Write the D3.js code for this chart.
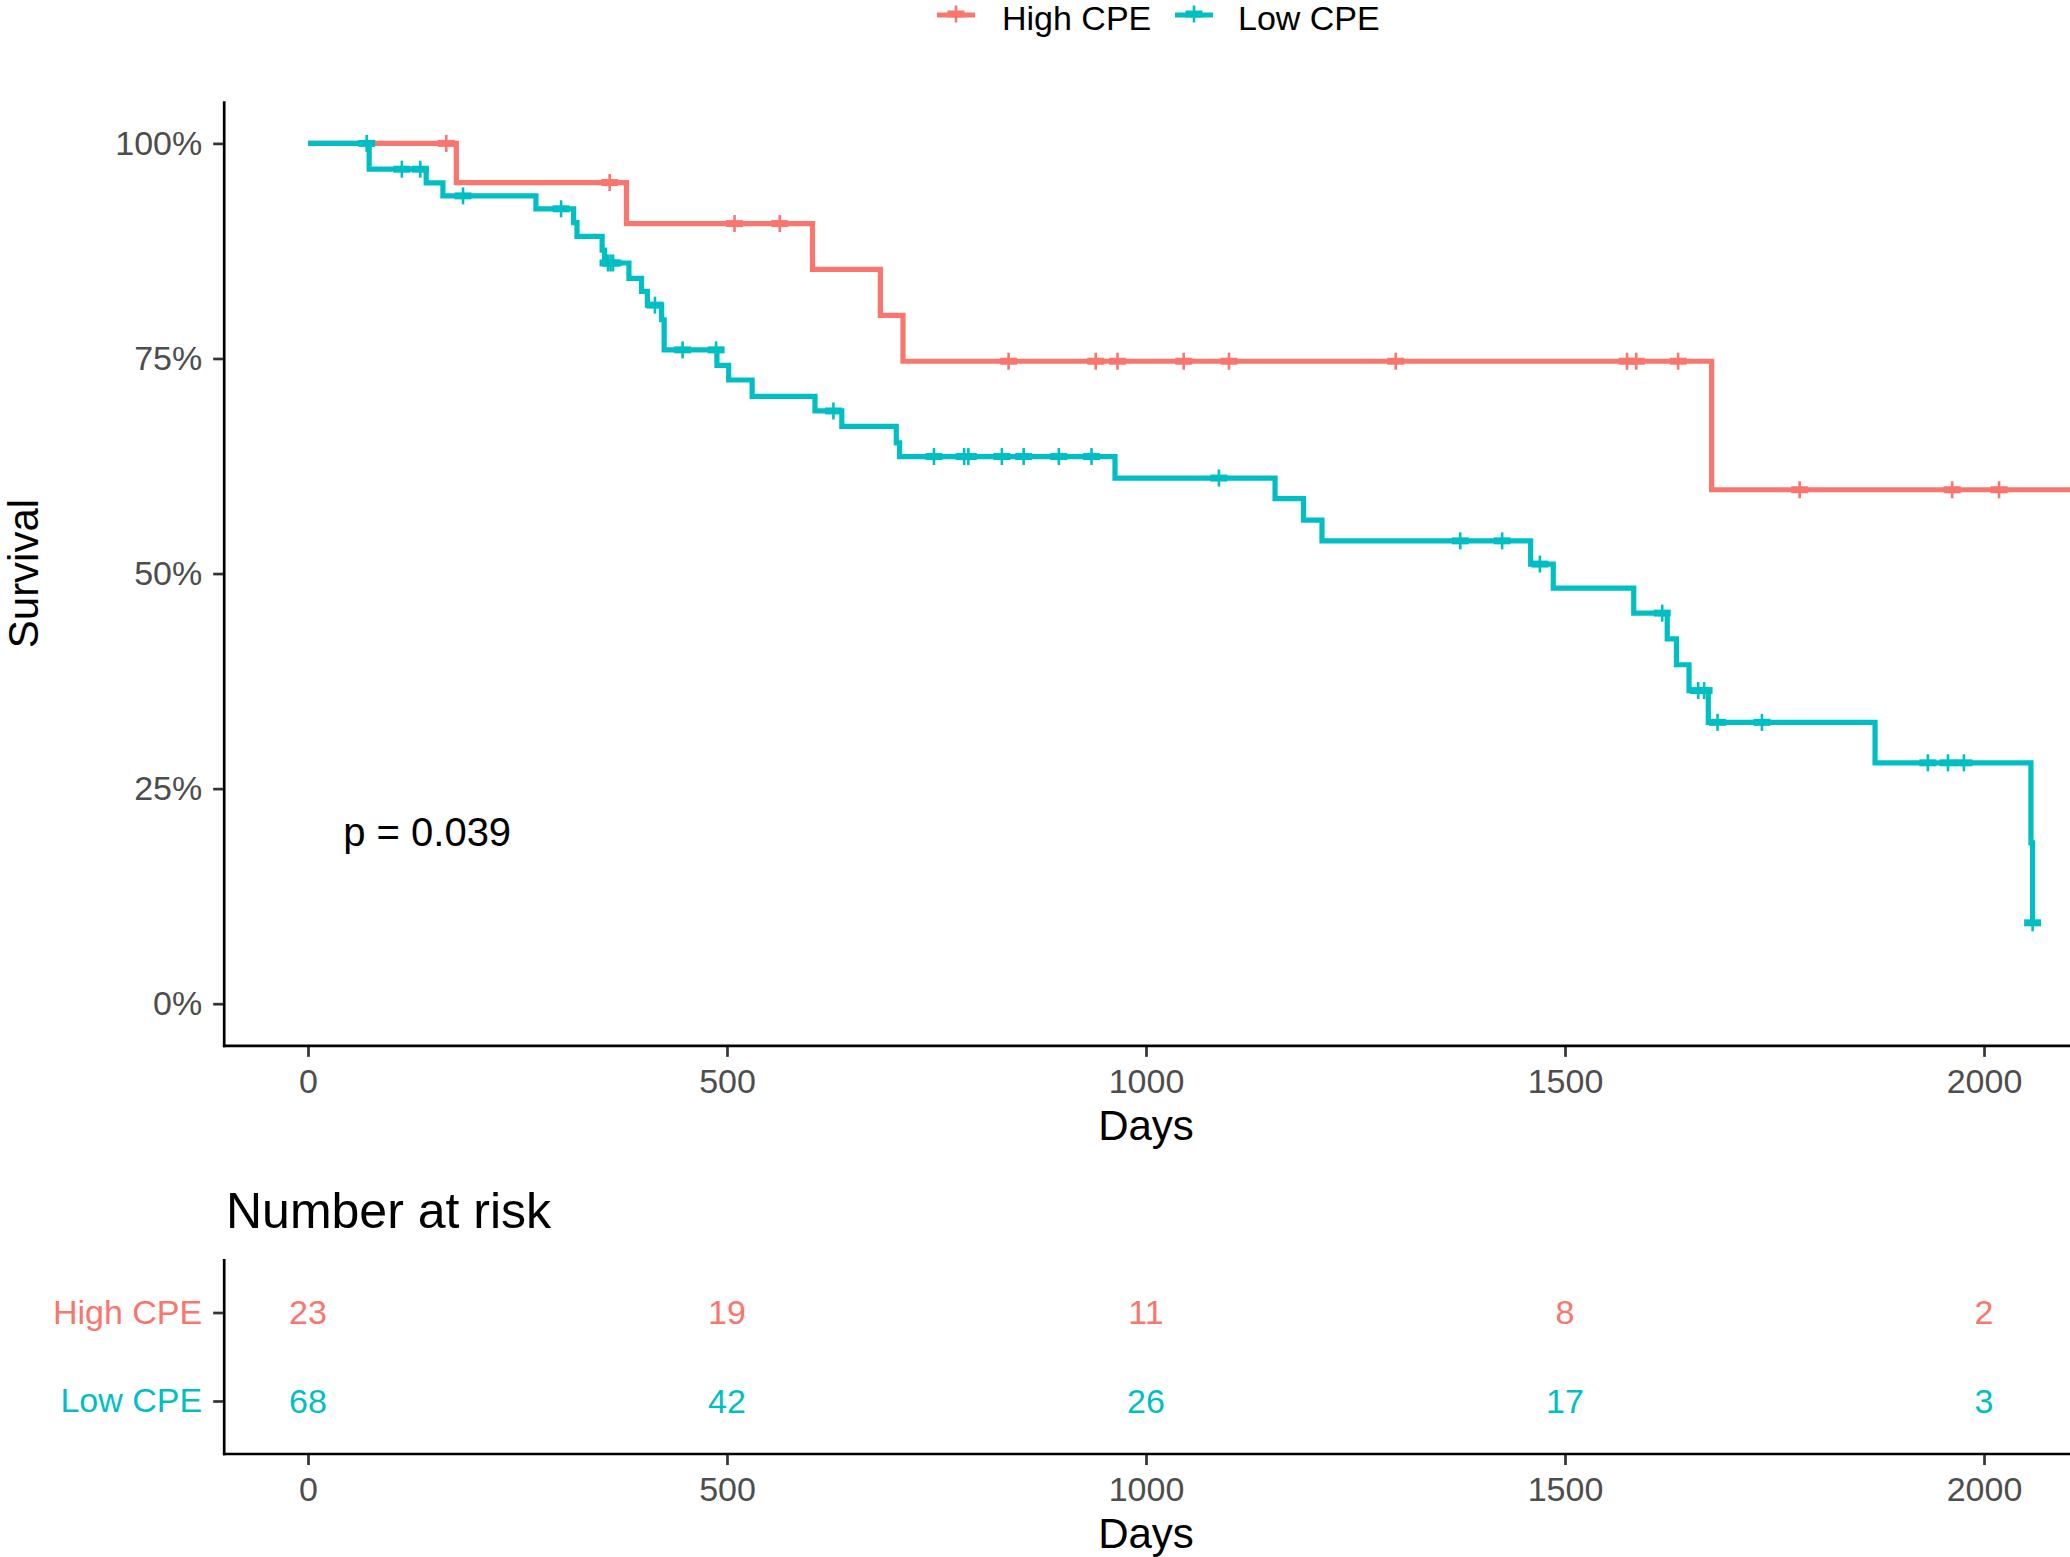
<!DOCTYPE html>
<html>
<head>
<meta charset="utf-8">
<script src="https://cdn.jsdelivr.net/npm/d3@7"></script>
<style>
  html, body { margin: 0; padding: 0; background: #ffffff; }
  svg { display: block; }
</style>
</head>
<body>
<script>
// ---------------- data ----------------
const groups = ["High CPE", "Low CPE"];
const groupColors = ["#F8766D", "#00BFC4"];

// High CPE Kaplan-Meier steps (days, survival)
const highTimes = [0, 177, 380, 602, 683, 710, 1675, 2105];
const highSurv  = [1, 0.9545, 0.9068, 0.8535, 0.8001, 0.7468, 0.5974, 0.5974];
const highCensor = [165, 360, 509, 563, 836, 940, 966, 1045, 1099, 1298, 1574, 1585, 1635, 1780, 1962, 2018];

// Low CPE Kaplan-Meier steps (days, survival)
const lowTimes = [0, 73, 141, 161, 272, 317, 321, 351, 354, 383, 398, 405, 422, 425, 488, 502, 530, 605,
                  637, 702, 706, 963, 1154, 1188, 1210, 1459, 1486, 1582, 1622, 1633, 1648, 1671, 1870, 2056, 2058];
const lowSurv  = [1, 0.970, 0.954, 0.939, 0.924, 0.908, 0.892, 0.876, 0.861, 0.843, 0.828, 0.812, 0.795, 0.760,
                  0.742, 0.725, 0.706, 0.689, 0.671, 0.652, 0.636, 0.611, 0.587, 0.562, 0.538, 0.511, 0.483,
                  0.454, 0.424, 0.394, 0.364, 0.327, 0.280, 0.187, 0.094];
const lowCensor = [70, 112, 134, 185, 302, 358, 361, 364, 414, 447, 487, 627, 747, 783, 788, 828, 854, 896, 935,
                   1087, 1375, 1425, 1470, 1616, 1659, 1666, 1682, 1735, 1933, 1957, 1976, 2058];

const xTicks = [0, 500, 1000, 1500, 2000];
const yTicks = [0, 0.25, 0.5, 0.75, 1];
const yTickLabels = ["0%", "25%", "50%", "75%", "100%"];

const riskTimes = [0, 500, 1000, 1500, 2000];
const highRisk = [23, 19, 11, 8, 2];
const lowRisk  = [68, 42, 26, 17, 3];

const pValueText = "p = 0.039";
const pValuePos = [42, 0.2];

// ---------------- layout ----------------
const W = 2070, H = 1557;
const FONT = "'Liberation Sans', Arial, Helvetica, sans-serif";
const TICK_FS = 34, TITLE_FS = 42, PVAL_FS = 40, TABLE_TITLE_FS = 50;

const x = d3.scaleLinear().domain([0, 2000]).range([308, 1984]);
const y = d3.scaleLinear().domain([0, 1]).range([1003.7, 143.4]);

const panelLeft = x(-100);
const panelRight = x(2200);
const panelTop = y(1.049);
const panelBottom = y(-0.049);

const tableTop = 1259, tableBottom = 1454;
const yRisk = d3.scalePoint().domain(groups).range([1312.5, 1401]);

const svg = d3.select("body").append("svg")
  .attr("width", W).attr("height", H)
  .attr("viewBox", `0 0 ${W} ${H}`)
  .style("font-family", FONT);

svg.append("rect").attr("width", W).attr("height", H).attr("fill", "#ffffff");

// ---------------- helpers ----------------
function survAt(times, surv, t) {
  let s = surv[0];
  for (let i = 0; i < times.length; i++) if (times[i] <= t) s = surv[i];
  return s;
}
function styleAxis(g, fs) {
  g.select(".domain").remove();
  g.selectAll(".tick line").attr("stroke", "#333333").attr("stroke-width", 2.7);
  g.selectAll(".tick text").attr("fill", "#4D4D4D").style("font-size", fs + "px").style("font-family", FONT);
}
function drawCross(g, cx, cy, color) {
  const c = g.append("g").attr("transform", `translate(${cx},${cy})`);
  c.append("line").attr("x1", -8.5).attr("x2", 8.5).attr("y1", 0).attr("y2", 0)
    .attr("stroke", color).attr("stroke-width", 7);
  c.append("line").attr("x1", 0).attr("x2", 0).attr("y1", -8.5).attr("y2", 8.5)
    .attr("stroke", color).attr("stroke-width", 2.6);
}

// ---------------- main panel axes ----------------
const yAxisG = svg.append("g").attr("transform", `translate(${panelLeft},0)`)
  .call(d3.axisLeft(y).tickValues(yTicks).tickFormat((d, i) => yTickLabels[i]).tickSize(11).tickPadding(11));
styleAxis(yAxisG, TICK_FS);

const xAxisG = svg.append("g").attr("transform", `translate(0,${panelBottom})`)
  .call(d3.axisBottom(x).tickValues(xTicks).tickFormat(d3.format("d")).tickSize(11).tickPadding(12));
styleAxis(xAxisG, TICK_FS);

svg.append("line").attr("x1", panelLeft).attr("x2", panelLeft).attr("y1", panelTop).attr("y2", panelBottom + 1.3)
  .attr("stroke", "#000").attr("stroke-width", 2.7);
svg.append("line").attr("x1", panelLeft - 1.3).attr("x2", panelRight).attr("y1", panelBottom).attr("y2", panelBottom)
  .attr("stroke", "#000").attr("stroke-width", 2.7);

// ---------------- curves ----------------
const line = d3.line().x(d => x(d.t)).y(d => y(d.s)).curve(d3.curveStepAfter);
const series = [
  { name: groups[0], color: groupColors[0], times: highTimes, surv: highSurv, censor: highCensor },
  { name: groups[1], color: groupColors[1], times: lowTimes, surv: lowSurv, censor: lowCensor }
];
const curvesG = svg.append("g");
series.forEach(sr => {
  const pts = sr.times.map((t, i) => ({ t: t, s: sr.surv[i] }));
  curvesG.append("path").datum(pts).attr("d", line)
    .attr("fill", "none").attr("stroke", sr.color).attr("stroke-width", 5.2)
    .attr("stroke-linejoin", "miter");
  sr.censor.forEach(t => drawCross(curvesG, x(t), y(survAt(sr.times, sr.surv, t)), sr.color));
});

// p-value
svg.append("text").attr("x", x(pValuePos[0])).attr("y", y(pValuePos[1]))
  .attr("dy", "0.35em").attr("fill", "#000").style("font-size", PVAL_FS + "px").text(pValueText);

// axis titles
svg.append("text").attr("transform", `translate(38,${(panelTop + panelBottom) / 2}) rotate(-90)`)
  .attr("text-anchor", "middle").attr("fill", "#000").style("font-size", TITLE_FS + "px").text("Survival");
svg.append("text").attr("x", x(1000)).attr("y", panelBottom + 94)
  .attr("text-anchor", "middle").attr("fill", "#000").style("font-size", TITLE_FS + "px").text("Days");

// ---------------- legend ----------------
const legendItems = [
  { label: groups[0], color: groupColors[0], keyX: 937, textX: 1002 },
  { label: groups[1], color: groupColors[1], keyX: 1175, textX: 1238 }
];
const legendG = svg.append("g");
legendItems.forEach(it => {
  legendG.append("line").attr("x1", it.keyX).attr("x2", it.keyX + 38).attr("y1", 15).attr("y2", 15)
    .attr("stroke", it.color).attr("stroke-width", 5.2);
  drawCross(legendG, it.keyX + 19, 14, it.color);
  legendG.append("text").attr("x", it.textX).attr("y", 30).attr("fill", "#000")
    .style("font-size", TICK_FS + "px").text(it.label);
});

// ---------------- risk table ----------------
svg.append("text").attr("x", 226).attr("y", 1228).attr("fill", "#000")
  .style("font-size", TABLE_TITLE_FS + "px").text("Number at risk");

const tYAxisG = svg.append("g").attr("transform", `translate(${panelLeft},0)`)
  .call(d3.axisLeft(yRisk).tickSize(11).tickPadding(11));
styleAxis(tYAxisG, TICK_FS);
tYAxisG.selectAll(".tick text").attr("fill", (d, i) => groupColors[groups.indexOf(d)]);

const tXAxisG = svg.append("g").attr("transform", `translate(0,${tableBottom})`)
  .call(d3.axisBottom(x).tickValues(xTicks).tickFormat(d3.format("d")).tickSize(11).tickPadding(12));
styleAxis(tXAxisG, TICK_FS);

svg.append("line").attr("x1", panelLeft).attr("x2", panelLeft).attr("y1", tableTop).attr("y2", tableBottom + 1.3)
  .attr("stroke", "#000").attr("stroke-width", 2.7);
svg.append("line").attr("x1", panelLeft - 1.3).attr("x2", panelRight).attr("y1", tableBottom).attr("y2", tableBottom)
  .attr("stroke", "#000").attr("stroke-width", 2.7);

const riskRows = [highRisk, lowRisk];
riskRows.forEach((row, gi) => {
  svg.append("g").selectAll("text").data(row).join("text")
    .attr("x", (d, i) => x(riskTimes[i]))
    .attr("y", yRisk(groups[gi]))
    .attr("dy", "0.35em")
    .attr("text-anchor", "middle")
    .attr("fill", groupColors[gi])
    .style("font-size", TICK_FS + "px")
    .text(d => d);
});

svg.append("text").attr("x", x(1000)).attr("y", tableBottom + 94)
  .attr("text-anchor", "middle").attr("fill", "#000").style("font-size", TITLE_FS + "px").text("Days");
</script>
</body>
</html>
